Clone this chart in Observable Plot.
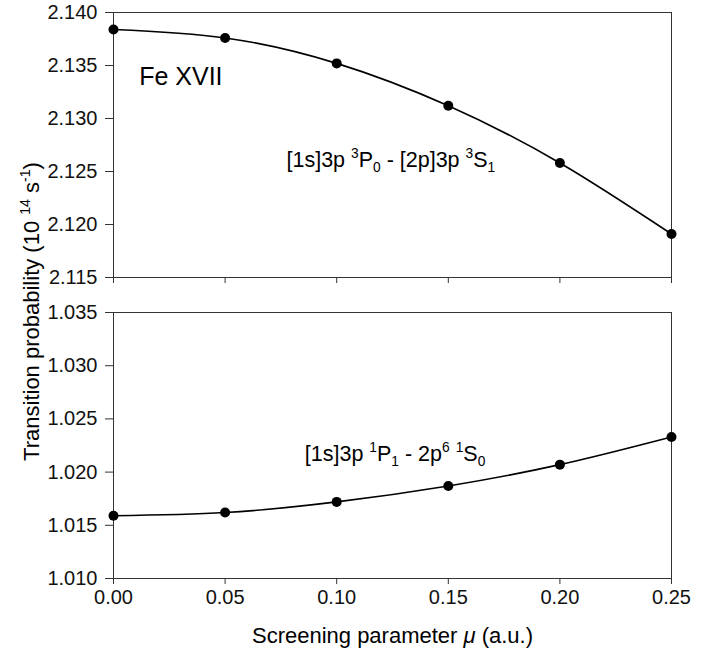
<!DOCTYPE html>
<html>
<head>
<meta charset="utf-8">
<script src="https://cdn.jsdelivr.net/npm/d3@7"></script>
<script src="https://cdn.jsdelivr.net/npm/@observablehq/plot@0.6"></script>
<style>
  body { margin: 0; background: white; }
  #chart { position: relative; width: 713px; height: 662px; }
  #chart svg { display: block; }
</style>
</head>
<body>
<div id="chart"></div>
<script>
// ---- data ----
const mu = [0.00, 0.05, 0.10, 0.15, 0.20, 0.25];
const aTop = [2.1384, 2.1376, 2.1352, 2.1312, 2.1258, 2.1191];
const aBottom = [1.0159, 1.0162, 1.0172, 1.0187, 1.0207, 1.0233];
const xTicks = [0.00, 0.05, 0.10, 0.15, 0.20, 0.25];
const yTicksTop = [2.115, 2.120, 2.125, 2.130, 2.135, 2.140];
const yTicksBottom = [1.010, 1.015, 1.020, 1.025, 1.030, 1.035];
const ionLabel = "Fe XVII";
const lineTop = "[1s]3p ^{3}P_{0} - [2p]3p ^{3}S_{1}";
const lineBottom = "[1s]3p ^{1}P_{1} - 2p^{6} ^{1}S_{0}";
const xTitle = "Screening parameter *{μ} (a.u.)";
const yTitle = "Transition probability (10 ^{14} s^{-1})";

const topData = mu.map((m, i) => ({mu: m, A: aTop[i]}));
const bottomData = mu.map((m, i) => ({mu: m, A: aBottom[i]}));

const FONT = "'Liberation Sans', Arial, Helvetica, sans-serif";
const W = 713, ML = 113, MR = 42;

function richify(svg) {
  svg.querySelectorAll("text").forEach(el => {
    const s = el.textContent;
    if (!/[\^_*]\{/.test(s)) return;
    const fs = parseFloat(getComputedStyle(el).fontSize);
    while (el.firstChild) el.removeChild(el.firstChild);
    const re = /([\^_*])\{([^}]*)\}|([^\^_*]+)/g;
    let m, shift = 0;
    while ((m = re.exec(s))) {
      const t = document.createElementNS("http://www.w3.org/2000/svg", "tspan");
      let target = 0;
      if (m[1] === "^" || m[1] === "_") {
        target = m[1] === "^" ? -0.40 * fs : 0.24 * fs;
        t.setAttribute("font-size", (0.64 * fs).toFixed(2));
        t.textContent = m[2];
      } else if (m[1] === "*") {
        t.setAttribute("font-style", "italic");
        t.textContent = m[2];
      } else {
        t.textContent = m[3];
      }
      if (target !== shift) t.setAttribute("dy", (target - shift).toFixed(2));
      shift = target;
      el.appendChild(t);
    }
  });
}

const common = {
  width: W,
  marginLeft: ML,
  marginRight: MR,
  style: {fontFamily: FONT, fontSize: "20px", color: "#111", overflow: "visible", background: "transparent"},
  x: {domain: [0, 0.25]}
};

const topPlot = Plot.plot({
  ...common,
  height: 290,
  marginTop: 12,
  marginBottom: 13,
  y: {domain: [2.115, 2.140]},
  marks: [
    Plot.frame({stroke: "#333"}),
    Plot.axisY(yTicksTop, {tickSize: 8, tickPadding: 8, tickFormat: d3.format(".3f"), label: null, stroke: "#333"}),
    Plot.axisX(xTicks, {tickSize: 6, tickFormat: () => "", label: null, stroke: "#333"}),
    Plot.line(topData, {x: "mu", y: "A", curve: "natural", stroke: "black", strokeWidth: 1.6}),
    Plot.dot(topData, {x: "mu", y: "A", r: 5, fill: "black"}),
    Plot.text([ionLabel], {x: 0.0115, y: 2.1339, text: d => d, textAnchor: "start", fontSize: 25, fill: "black"}),
    Plot.text([lineTop], {x: 0.0775, y: 2.1261, text: d => d, textAnchor: "start", fontSize: 21.5, fill: "black"})
  ]
});

const bottomPlot = Plot.plot({
  ...common,
  height: 372,
  marginTop: 22,
  marginBottom: 84,
  y: {domain: [1.010, 1.035]},
  marks: [
    Plot.frame({stroke: "#333"}),
    Plot.axisY(yTicksBottom, {tickSize: 8, tickPadding: 8, tickFormat: d3.format(".3f"), label: null, stroke: "#333"}),
    Plot.axisX(xTicks, {tickSize: 6, tickPadding: 5, tickFormat: d3.format(".2f"), label: null, stroke: "#333"}),
    Plot.line(bottomData, {x: "mu", y: "A", curve: "natural", stroke: "black", strokeWidth: 1.6}),
    Plot.dot(bottomData, {x: "mu", y: "A", r: 5, fill: "black"}),
    Plot.text([lineBottom], {x: 0.0857, y: 1.0217, text: d => d, textAnchor: "start", fontSize: 21.5, fill: "black"}),
    Plot.text([xTitle], {frameAnchor: "bottom", dy: 64, text: d => d, textAnchor: "middle", fontSize: 22, fill: "black"}),
    Plot.text([yTitle], {frameAnchor: "left", dx: -82, dy: -134, rotate: -90, textAnchor: "middle", lineAnchor: "middle", text: d => d, fontSize: 22, fill: "black"})
  ]
});

const host = document.getElementById("chart");
host.appendChild(topPlot);
host.appendChild(bottomPlot);
richify(topPlot);
richify(bottomPlot);
</script>
</body>
</html>
